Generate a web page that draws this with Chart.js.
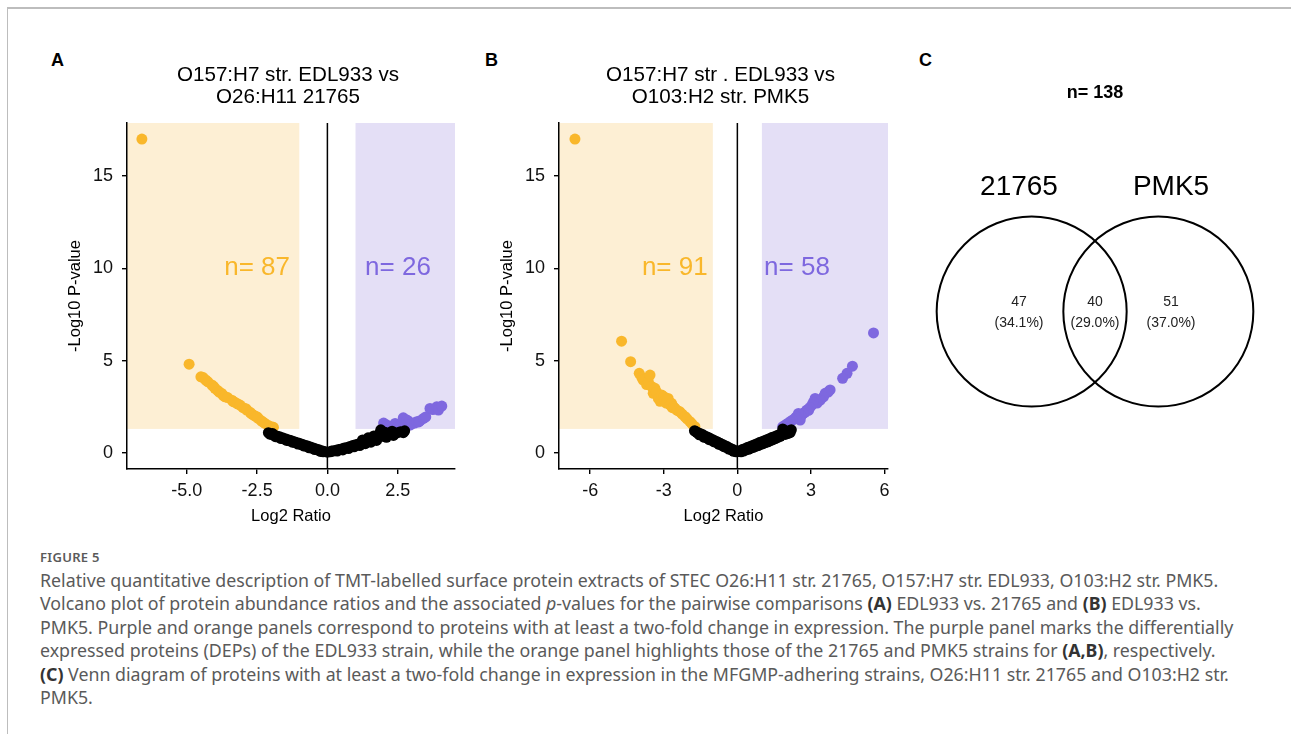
<!DOCTYPE html>
<html lang="en">
<head>
    <meta charset="UTF-8">
    <title>Figure 5 - volcano plots and Venn diagram</title>
    <style>
        body { margin: 0; background: #fff; width: 1291px; height: 734px; position: relative; overflow: hidden; font-family: "Liberation Sans", Arial, sans-serif; }
        .frame { position: absolute; left: 7px; top: 7px; right: 0; bottom: 0; border-top: 2px solid #bdbdbd; border-left: 1px solid #bdbdbd; }
        .tag { position: absolute; font-weight: bold; font-size: 18px; color: #000; }
        canvas { position: absolute; }
        .caption { position: absolute; left: 40px; top: 546px; font-family: "Noto Sans", sans-serif; color: #5a5a5a; }
        .caption .fig { font-size: 13px; font-weight: 600; letter-spacing: 0.3px; height: 23px; line-height: 23px; }
        .caption .ln { font-size: 17.8px; height: 23.4px; line-height: 23.4px; white-space: nowrap; }
        .caption b { color: #333; }
    </style>
    <script src="https://cdn.jsdelivr.net/npm/chart.js"></script>
</head>
<body>
<div class="frame"></div>
<div class="tag" style="left:51px; top:50px;">A</div>
<div class="tag" style="left:485px; top:50px;">B</div>
<div class="tag" style="left:919px; top:50px;">C</div>

<canvas id="volA" width="430" height="490" style="left:40px; top:50px;"></canvas>
<canvas id="volB" width="430" height="490" style="left:472px; top:50px;"></canvas>
<canvas id="venn" width="380" height="400" style="left:905px; top:40px;"></canvas>

<div class="caption">
    <div class="fig">FIGURE 5</div>
    <div class="ln">Relative quantitative description of TMT-labelled surface protein extracts of STEC O26:H11 str. 21765, O157:H7 str. EDL933, O103:H2 str. PMK5.</div>
    <div class="ln">Volcano plot of protein abundance ratios and the associated <i>p</i>-values for the pairwise comparisons <b>(A)</b> EDL933 vs. 21765 and <b>(B)</b> EDL933 vs.</div>
    <div class="ln">PMK5. Purple and orange panels correspond to proteins with at least a two-fold change in expression. The purple panel marks the differentially</div>
    <div class="ln">expressed proteins (DEPs) of the EDL933 strain, while the orange panel highlights those of the 21765 and PMK5 strains for <b>(A,B)</b>, respectively.</div>
    <div class="ln"><b>(C)</b> Venn diagram of proteins with at least a two-fold change in expression in the MFGMP-adhering strains, O26:H11 str. 21765 and O103:H2 str.</div>
    <div class="ln">PMK5.</div>
</div>

<script>
// cut-offs: two-fold change and p = 0.05
const fcCut = 1;
const pCut = 1.301;

const yTicks = [0, 5, 10, 15];
const xTicksA = [-5, -2.5, 0, 2.5];
const xTicksB = [-6, -3, 0, 3, 6];

const titleA = ['O157:H7 str. EDL933 vs', 'O26:H11 21765'];
const titleB = ['O157:H7 str . EDL933 vs', 'O103:H2 str. PMK5'];

const nA = [87, 26];
const nB = [91, 58];

// panel A points [log2 ratio, -log10 p]
const orangeA = [[-6.6,17.0],[-4.92,4.81],[-4.5,4.12],[-4.42,4.08],[-4.33,3.95],[-4.25,3.85],[-4.11,3.68],[-4.05,3.6],
    [-4.0,3.5],[-3.9,3.38],[-3.85,3.3],[-3.76,3.22],[-3.7,3.1],[-3.64,3.04],[-3.55,3.0],[-3.4,2.86],[-3.35,2.78],
    [-3.3,2.75],[-3.2,2.66],[-3.11,2.59],[-3.0,2.45],[-2.9,2.4],[-2.87,2.32],[-2.75,2.2],[-2.7,2.12],[-2.63,2.05],
    [-2.55,1.98],[-2.5,1.95],[-2.46,1.87],[-2.35,1.74],[-2.3,1.68],[-2.22,1.6],[-2.1,1.48],[-2.0,1.42],[-1.92,1.39]];
const purpleA = [[2.0,1.62],[2.11,1.51],[2.2,1.45],[2.41,1.6],[2.53,1.42],[2.6,1.5],[2.7,1.45],[2.7,1.9],[2.8,1.62],
    [2.83,1.78],[2.9,1.7],[2.94,1.51],[3.0,1.58],[3.1,1.62],[3.18,1.69],[3.25,1.68],[3.3,1.75],[3.42,1.87],
    [3.5,1.95],[3.65,2.41],[3.75,2.35],[3.89,2.5],[3.95,2.32],[4.07,2.54]];
const blackA = [[-2.1,1.1],[-2.05,1.02],[-2.0,1.0],[-1.95,1.05],[-1.9,0.97],[-1.85,0.88],[-1.8,0.92],[-1.75,0.86],
    [-1.7,0.87],[-1.65,0.78],[-1.6,0.82],[-1.55,0.76],[-1.5,0.77],[-1.45,0.68],[-1.4,0.72],[-1.35,0.66],[-1.3,0.67],
    [-1.25,0.58],[-1.2,0.62],[-1.15,0.56],[-1.1,0.57],[-1.05,0.48],[-1.0,0.52],[-0.95,0.46],[-0.9,0.47],[-0.85,0.38],
    [-0.8,0.42],[-0.75,0.36],[-0.7,0.37],[-0.65,0.28],[-0.6,0.32],[-0.55,0.26],[-0.5,0.27],[-0.45,0.18],[-0.4,0.22],
    [-0.35,0.16],[-0.3,0.17],[-0.25,0.08],[-0.2,0.12],[-0.15,0.06],[-0.1,0.08],[0,0.04],
    [0.1,0.06],[0.15,0.1],[0.2,0.1],[0.3,0.15],[0.35,0.1],[0.4,0.19],[0.5,0.22],[0.55,0.16],[0.6,0.27],[0.7,0.3],
    [0.75,0.24],[0.8,0.35],[0.9,0.4],[0.95,0.33],[1.0,0.45],[1.1,0.48],[1.15,0.4],[1.2,0.55],[1.25,0.7],[1.3,0.6],
    [1.35,0.5],[1.4,0.65],[1.45,0.82],[1.5,0.68],[1.55,0.58],[1.6,0.75],[1.65,0.92],[1.7,0.8],[1.75,0.68],[1.8,0.88],
    [1.85,1.05],[1.9,1.25],[1.95,0.9],[2.0,0.95],[2.05,1.12],[2.1,0.85],[2.2,1.02],[2.3,1.18],[2.35,0.95],[2.4,1.05],
    [2.5,1.1],[2.6,1.15],[2.7,1.1],[2.75,1.2]];

// panel B points
const orangeB = [[-6.62,17.0],[-4.72,6.05],[-4.35,4.94],[-4.0,4.31],[-3.9,4.1],[-3.84,3.95],[-3.7,3.7],[-3.63,3.86],
    [-3.56,4.22],[-3.5,3.6],[-3.43,3.23],[-3.36,3.5],[-3.3,3.3],[-3.22,2.95],[-3.15,2.8],[-3.09,3.14],[-3.0,3.05],
    [-2.95,2.86],[-2.9,2.7],[-2.82,2.95],[-2.75,2.6],[-2.68,2.69],[-2.65,2.45],[-2.6,2.5],[-2.54,2.41],[-2.45,2.3],
    [-2.34,2.23],[-2.25,2.1],[-2.13,1.96],[-2.05,1.85],[-1.93,1.69],[-1.85,1.58],[-1.73,1.42]];
const purpleB = [[5.55,6.5],[4.69,4.7],[4.47,4.31],[4.29,4.04],[3.78,3.41],[3.7,3.3],[3.58,3.23],[3.51,3.04],
    [3.38,2.86],[3.25,2.7],[3.17,2.95],[3.1,2.75],[3.04,2.59],[2.95,2.45],[2.9,2.3],[2.83,2.32],[2.75,2.2],
    [2.69,2.14],[2.6,2.0],[2.56,1.78],[2.49,2.14],[2.4,1.95],[2.36,1.87],[2.25,1.78],[2.15,1.69],[2.05,1.6],
    [1.95,1.51],[1.85,1.42]];
const blackB = [[-1.75,1.2],[-1.7,1.17],[-1.65,1.1],[-1.6,1.1],[-1.55,0.98],[-1.5,1.04],[-1.45,0.95],[-1.4,0.98],
    [-1.35,0.85],[-1.3,0.91],[-1.25,0.82],[-1.2,0.85],[-1.15,0.72],[-1.1,0.78],[-1.05,0.69],[-1.0,0.72],[-0.95,0.6],
    [-0.9,0.65],[-0.85,0.56],[-0.8,0.59],[-0.75,0.47],[-0.7,0.52],[-0.65,0.43],[-0.6,0.46],[-0.55,0.34],[-0.5,0.39],
    [-0.45,0.3],[-0.4,0.33],[-0.35,0.21],[-0.3,0.26],[-0.25,0.17],[-0.2,0.2],[-0.15,0.09],[-0.1,0.13],
    [-0.05,0.06],[0,0.07],
    [0.1,0.12],[0.15,0.06],[0.2,0.18],[0.25,0.1],[0.3,0.23],[0.35,0.16],[0.4,0.29],[0.45,0.2],[0.5,0.34],[0.55,0.26],
    [0.6,0.39],[0.65,0.3],[0.7,0.45],[0.75,0.36],[0.8,0.5],[0.85,0.4],[0.9,0.56],[0.95,0.46],[1.0,0.61],[1.05,0.5],
    [1.1,0.66],[1.15,0.56],[1.2,0.72],[1.25,0.6],[1.3,0.77],[1.35,0.67],[1.4,0.83],[1.45,0.72],[1.5,0.88],[1.55,0.78],
    [1.6,0.93],[1.65,0.84],[1.7,0.99],[1.75,0.9],[1.8,1.04],[1.85,1.3],[1.9,1.1],[1.95,1.0],[2.0,1.15],[2.05,1.05],
    [2.1,1.2],[2.15,1.1],[2.2,1.25]];

// Venn
const vennSets = ['21765', 'PMK5'];
const vennCounts = [47, 40, 51];   // 21765 only, both, PMK5 only

const ORANGE = '#F9B72B';
const PURPLE = '#7E68DF';
const ORANGE_BG = '#FDEFD4';
const PURPLE_BG = '#E4DFF6';

Chart.defaults.font.family = '"Liberation Sans", Arial, sans-serif';
Chart.defaults.color = '#000';

const volcanoDecor = {
    id: 'volcanoDecor',
    beforeDraw(chart, args, o) {
        const { ctx, chartArea: a, scales: { x, y } } = chart;
        const yc = y.getPixelForValue(pCut);
        const xl = x.getPixelForValue(-fcCut);
        const xr = x.getPixelForValue(fcCut);
        ctx.save();
        ctx.fillStyle = ORANGE_BG;
        ctx.fillRect(a.left, a.top, xl - a.left, yc - a.top);
        ctx.fillStyle = PURPLE_BG;
        ctx.fillRect(xr, a.top, a.right - xr, yc - a.top);
        const x0 = x.getPixelForValue(0);
        ctx.strokeStyle = '#000';
        ctx.lineWidth = 1.5;
        ctx.beginPath();
        ctx.moveTo(x0, a.top);
        ctx.lineTo(x0, a.bottom);
        ctx.stroke();
        // panel title, two lines, over the plot
        ctx.fillStyle = '#000';
        ctx.textAlign = 'center';
        ctx.textBaseline = 'middle';
        ctx.font = '20.6px "Liberation Sans", Arial, sans-serif';
        const cx = (a.left + a.right) / 2 - 3;
        o.title.forEach((t, i) => ctx.fillText(t, cx, 25 + i * 22));
        ctx.restore();
    },
    afterDatasetsDraw(chart, args, o) {
        const { ctx, scales: { x, y } } = chart;
        ctx.save();
        ctx.font = '26px "Liberation Sans", Arial, sans-serif';
        ctx.textBaseline = 'middle';
        ctx.fillStyle = ORANGE;
        ctx.textAlign = 'right';
        ctx.fillText('n= ' + o.counts[0], x.getPixelForValue(o.labelX[0]), y.getPixelForValue(10));
        ctx.fillStyle = PURPLE;
        ctx.textAlign = 'left';
        ctx.fillText('n= ' + o.counts[1], x.getPixelForValue(o.labelX[1]), y.getPixelForValue(10));
        ctx.restore();
    }
};

function pts(arr) {
    return arr.map(p => ({ x: p[0], y: p[1] }));
}

function makeVolcano(id, title, xmin, xmax, xTicks, fmt, orange, purple, black, counts, labelX, padRight) {
    new Chart(document.getElementById(id), {
        type: 'scatter',
        data: {
            datasets: [
                { data: pts(black), backgroundColor: '#000' },
                { data: pts(orange), backgroundColor: ORANGE },
                { data: pts(purple), backgroundColor: PURPLE }
            ]
        },
        options: {
            responsive: false,
            animation: false,
            layout: { autoPadding: false, padding: { left: 0, right: padRight, top: 73, bottom: 0 } },
            elements: { point: { radius: 5.5, hoverRadius: 5.5, borderWidth: 0 } },
            plugins: {
                legend: { display: false },
                tooltip: { enabled: false },
                title: { display: false },
                volcanoDecor: { counts: counts, labelX: labelX, title: title }
            },
            scales: {
                x: {
                    type: 'linear', min: xmin, max: xmax,
                    afterBuildTicks: s => { s.ticks = xTicks.map(v => ({ value: v })); },
                    afterFit: s => { s.height = 71; },
                    grid: { drawOnChartArea: false, color: '#000', lineWidth: 1.4, tickLength: 5 },
                    border: { display: true, color: '#000', width: 1.5 },
                    ticks: { color: '#111', font: { size: 18 }, padding: 6, maxRotation: 0, callback: fmt },
                    title: { display: true, text: 'Log2 Ratio', color: '#000', font: { size: 16.5 }, padding: { top: 0, bottom: 14 } }
                },
                y: {
                    type: 'linear', min: -0.87, max: 17.87,
                    afterBuildTicks: s => { s.ticks = yTicks.map(v => ({ value: v })); },
                    afterFit: s => { s.width = 87; },
                    grid: { drawOnChartArea: false, color: '#000', lineWidth: 1.4, tickLength: 5 },
                    border: { display: true, color: '#000', width: 1.5 },
                    ticks: { color: '#111', font: { size: 18 }, padding: 9 },
                    title: { display: true, text: '-Log10 P-value', color: '#000', font: { size: 16.5 }, padding: { top: 26, bottom: 0 } }
                }
            }
        },
        plugins: [volcanoDecor]
    });
}

makeVolcano('volA', titleA, -7.13, 4.54, xTicksA, v => v.toFixed(1), orangeA, purpleA, blackA, nA, [-1.33, 1.34], 15);
makeVolcano('volB', titleB, -7.27, 6.14, xTicksB, v => String(v), orangeB, purpleB, blackB, nB, [-1.21, 1.09], 14);

// Venn diagram: two circles on a hidden linear scale, texts from the counts
const vennTotal = vennCounts.reduce((s, v) => s + v, 0);

const vennText = {
    id: 'vennText',
    afterDatasetsDraw(chart) {
        const { ctx, scales: { x, y } } = chart;
        const cy = y.getPixelForValue(0);
        const regionX = [-0.6, 0, 0.6];
        ctx.save();
        ctx.fillStyle = '#000';
        ctx.textAlign = 'center';
        ctx.textBaseline = 'middle';
        ctx.font = 'bold 18px "Liberation Sans", Arial, sans-serif';
        ctx.fillText('n= ' + vennTotal, x.getPixelForValue(0), cy - 219);
        ctx.font = '28px "Liberation Sans", Arial, sans-serif';
        ctx.fillText(vennSets[0], x.getPixelForValue(regionX[0]), cy - 124);
        ctx.fillText(vennSets[1], x.getPixelForValue(regionX[2]), cy - 124);
        ctx.font = '14px "Liberation Sans", Arial, sans-serif';
        ctx.fillStyle = '#222';
        vennCounts.forEach((c, i) => {
            const px = x.getPixelForValue(regionX[i]);
            ctx.fillText(String(c), px, cy - 9);
            ctx.fillText('(' + (100 * c / vennTotal).toFixed(1) + '%)', px, cy + 12);
        });
        ctx.restore();
    }
};

new Chart(document.getElementById('venn'), {
    type: 'scatter',
    data: {
        datasets: [{
            data: [{ x: -0.5, y: 0 }, { x: 0.5, y: 0 }],
            backgroundColor: 'rgba(0,0,0,0)',
            borderColor: '#000',
            borderWidth: 2,
            pointRadius: 95,
            pointHoverRadius: 95,
            clip: false
        }]
    },
    options: {
        responsive: false,
        animation: false,
        layout: { autoPadding: false, padding: 0 },
        plugins: { legend: { display: false }, tooltip: { enabled: false } },
        scales: {
            x: { type: 'linear', min: -1.5, max: 1.5, display: false },
            y: { type: 'linear', min: -0.642, max: 1.358, display: false }
        }
    },
    plugins: [vennText]
});
</script>
</body>
</html>
